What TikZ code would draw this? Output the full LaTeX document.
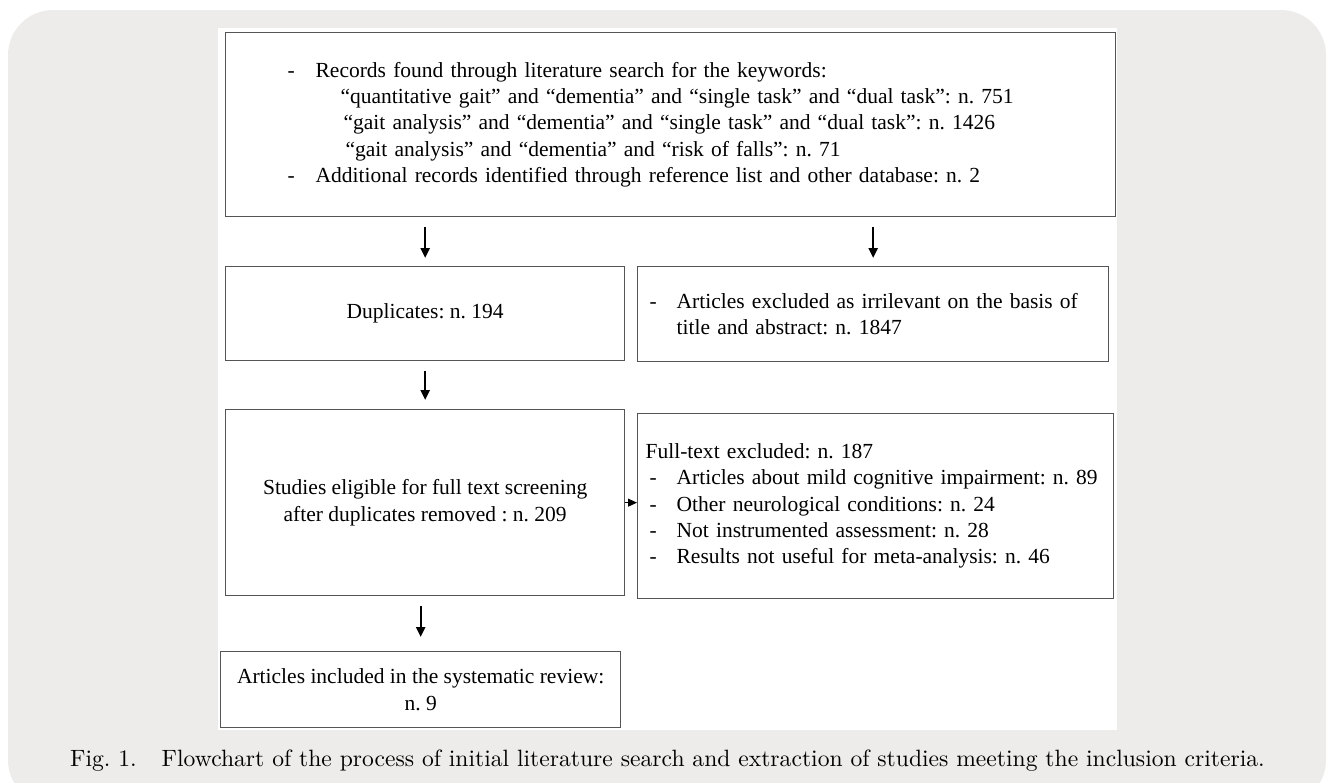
\documentclass[tikz,border=0pt]{standalone}
\usepackage{fontspec}
\newfontfamily\boxfont{Liberation Serif}
\newfontfamily\capfont{lmroman10-regular.otf}
\usetikzlibrary{arrows.meta,positioning}
\definecolor{panelgray}{RGB}{237,236,234}
\definecolor{boxline}{RGB}{85,85,85}
\frenchspacing

\begin{document}
\begin{tikzpicture}[x=1pt,y=-1pt,
  flowbox/.style={draw=boxline,line width=1.3pt,fill=white,inner sep=0pt,anchor=north west,
    font=\boxfont\fontsize{21.5}{26.3}\selectfont},
  flowarrow/.style={-{Triangle[length=10pt,width=9pt]},line width=2.3pt}]
\useasboundingbox (0,0) rectangle (1327,782);
\clip (0,0) rectangle (1327,782);
\fill[panelgray,rounded corners=45pt] (8,10) rectangle (1326,805);
\fill[white] (218,28) rectangle (1117,730);

% search records
\node[flowbox,minimum width=890pt,minimum height=184pt,inner xsep=62pt,text width=766pt,align=left] (search) at (225,32)
  {\makebox[28pt][l]{-}Records found through literature search for the keywords:\\
   \hspace*{53pt}“quantitative gait” and “dementia” and “single task” and “dual task”: n. 751\\
   \hspace*{56pt}“gait analysis” and “dementia” and “single task” and “dual task”: n. 1426\\
   \hspace*{58pt}“gait analysis” and “dementia” and “risk of falls”: n. 71\\
   \makebox[28pt][l]{-}Additional records identified through reference list and other database: n. 2};

\node[flowbox,minimum width=399pt,minimum height=94pt,align=center] (dup) at (225,266) {Duplicates: n. 194};
\node[flowbox,minimum width=471pt,minimum height=95pt,inner xsep=12pt,text width=447pt,align=left] (excl) at (637,266)
  {\makebox[27pt][l]{-}Articles excluded as irrilevant on the basis of\\
   \hspace*{27pt}title and abstract: n. 1847};

\node[flowbox,minimum width=399pt,minimum height=186pt,align=center] (studies) at (225,409)
  {Studies eligible for full text screening\\after duplicates removed : n. 209};
\node[flowbox,minimum width=476pt,minimum height=185pt,inner xsep=8pt,text width=460pt,align=left] (fulltext) at (637,413)
  {Full-text excluded: n. 187\\
   \hspace*{4pt}\makebox[27pt][l]{-}Articles about mild cognitive impairment: n. 89\\
   \hspace*{4pt}\makebox[27pt][l]{-}Other neurological conditions: n. 24\\
   \hspace*{4pt}\makebox[27pt][l]{-}Not instrumented assessment: n. 28\\
   \hspace*{4pt}\makebox[27pt][l]{-}Results not useful for meta-analysis: n. 46};

\node[flowbox,minimum width=400pt,minimum height=76pt,align=center] (incl) at (220,651)
  {Articles included in the systematic review:\\n. 9};

\draw[flowarrow,shorten <=10pt,shorten >=8pt] (search.south -| dup.north) -- (dup.north);
\draw[flowarrow,shorten <=10pt,shorten >=8pt] (search.south -| excl.north) -- (excl.north);
\draw[flowarrow,shorten <=10pt,shorten >=9pt] (dup.south) -- (studies.north);
\draw[-{Triangle[length=9pt,width=8pt]},line width=1pt] (studies.east) -- (studies.east -| fulltext.west);
\draw[flowarrow,shorten <=10pt,shorten >=14pt] (incl.north |- studies.south) -- (incl.north);

\node[anchor=base west,inner sep=0pt,font=\capfont\fontsize{23.6}{28}\selectfont] (caption) at (70,766)
  {Fig. 1.\hspace{25pt}Flowchart of the process of initial literature search and extraction of studies meeting the inclusion criteria.};
\end{tikzpicture}
\end{document}
